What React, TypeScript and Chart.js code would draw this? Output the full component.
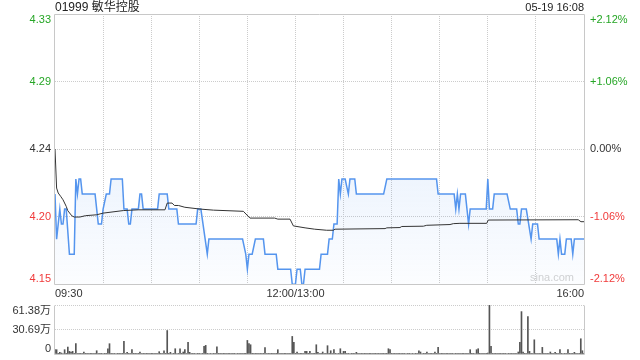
import React, { useEffect, useRef } from 'react';
import { Chart, registerables } from 'chart.js';

Chart.register(...registerables);

const FONT = 'Arial, "Liberation Sans", "Noto Sans CJK SC", sans-serif';

// ---------- text ----------
const TITLE = '01999 敏华控股';
const TIMESTAMP = '05-19 16:08';
const WATERMARK = 'sina.com';

// ---------- axes ----------
const PRE_CLOSE = 4.24;
const PCT_STEPS = [-0.0212, -0.0106, 0, 0.0106, 0.0212];
const PRICE_TICK_LABELS = ['4.15', '4.20', '4.24', '4.29', '4.33'];
const PCT_TICK_LABELS = ['-2.12%', '-1.06%', '0.00%', '+1.06%', '+2.12%'];
const TOTAL_MINUTES = 330;
const GRID_MINUTES = [0, 30, 60, 90, 120, 150, 180, 210, 240, 270, 300, 330];
const TIME_TICK_MINUTES = [0, 150, 330];
const TIME_TICK_LABELS = ['09:30', '12:00/13:00', '16:00'];
const VOL_TICK_VALUES = [0, 30.69, 61.38];
const VOL_TICK_LABELS = ['0', '30.69万', '61.38万'];

// ---------- price (minute index since 09:30, trading minutes) ----------
const priceMinutes = [
  0, 1, 3, 4, 5, 6, 7, 9, 12, 13, 14, 15, 16, 17, 25, 27, 29, 30, 32, 34,
  35, 42, 43, 45, 46, 47, 48, 52, 53, 54, 55, 64, 65, 70, 71, 76, 77, 88, 89, 91,
  95, 96, 117, 119, 120, 121, 123, 125, 130, 131, 138, 139, 147, 148, 150, 151, 153, 154, 155, 156,
  165, 166, 170, 171, 173, 174, 176, 177, 178, 179, 181, 183, 184, 187, 188, 205, 207, 238, 239, 249,
  250, 251, 252, 253, 256, 258, 259, 269, 270, 271, 273, 274, 282, 284, 288, 289, 290, 291, 294, 297,
  298, 301, 302, 313, 314, 315, 316, 318, 319, 322, 323, 324, 330,
];
const priceValues = [
  4.21, 4.18, 4.20, 4.19, 4.19, 4.20, 4.20, 4.17, 4.17, 4.22, 4.21, 4.22, 4.22, 4.21, 4.21, 4.19, 4.19, 4.20, 4.21, 4.21,
  4.22, 4.22, 4.20, 4.20, 4.19, 4.19, 4.20, 4.20, 4.21, 4.21, 4.20, 4.20, 4.21, 4.21, 4.20, 4.20, 4.19, 4.19, 4.20, 4.20,
  4.17, 4.18, 4.18, 4.17, 4.16, 4.17, 4.17, 4.18, 4.18, 4.17, 4.17, 4.16, 4.16, 4.15, 4.15, 4.16, 4.16, 4.15, 4.15, 4.16,
  4.16, 4.17, 4.17, 4.18, 4.18, 4.19, 4.19, 4.22, 4.21, 4.22, 4.22, 4.21, 4.22, 4.22, 4.21, 4.21, 4.22, 4.22, 4.21, 4.21,
  4.20, 4.21, 4.20, 4.21, 4.21, 4.19, 4.20, 4.20, 4.22, 4.20, 4.20, 4.21, 4.21, 4.20, 4.20, 4.19, 4.19, 4.20, 4.20, 4.18,
  4.19, 4.19, 4.18, 4.18, 4.17, 4.18, 4.17, 4.17, 4.18, 4.18, 4.17, 4.18, 4.18,
];

// ---------- average price ----------
const avgMinutes = [
  0, 1, 2, 3.5, 5, 7, 8, 10.5, 12, 15.5, 19, 26, 30, 42.6, 52, 68.6, 70, 73, 74.5, 77,
  81, 90.5, 98.8, 117.5, 121.6, 137, 139, 146.6, 148.7, 156, 162, 169.5, 173.6, 174.7, 205.9, 207, 215.2, 216.3, 229.8, 231.9,
  246.4, 248.5, 252.6, 269.3, 270.3, 326.4, 328.1, 330,
];
const avgValues = [
  4.240, 4.214, 4.2107, 4.2085, 4.2062, 4.2018, 4.1989, 4.1955, 4.1947, 4.1947, 4.1956, 4.1962, 4.1973, 4.1990, 4.1995, 4.1995, 4.2040, 4.2040, 4.2024, 4.2024,
  4.2012, 4.2000, 4.1993, 4.1985, 4.1940, 4.1940, 4.1933, 4.1933, 4.1888, 4.1875, 4.1866, 4.1859, 4.1859, 4.1866, 4.1870, 4.1875, 4.1877, 4.1884, 4.1886, 4.1892,
  4.1897, 4.1903, 4.1905, 4.1905, 4.1927, 4.1929, 4.1916, 4.1916,
];

// ---------- volume per minute (万股) ----------
const volumeValues = [
  5.4, 5.4, 0.8, 2.1, 1.2, 0.6, 5.4, 0.8, 8.7, 3.3, 2.5, 3.3, 0.8, 12.9, 0.6, 0.8, 0.5, 0.6, 2.5, 0.8, 0.5, 0.6, 0.8, 0.5, 0.6, 0.8, 4.1, 0.6, 0.5, 0.8,
  0.6, 0.8, 0.5, 6.6, 12.9, 0.8, 0.6, 0.5, 0.6, 0.8, 0.5, 0.6, 0.8, 15.8, 0.6, 2.1, 0.5, 0.6, 5.4, 0.8, 0.5, 0.6, 0.8, 2.5, 0.6, 0.5, 0.6, 0.8, 0.5, 0.6,
  0.8, 0.5, 0.6, 0.8, 0.6, 2.9, 0.5, 0.6, 4.1, 0.8, 29.4, 0.8, 2.1, 0.6, 0.8, 6.6, 0.6, 0.5, 6.6, 0.8, 2.5, 5.4, 0.6, 14.5, 2.1, 0.6, 0.8, 0.5, 0.6, 0.8,
  0.5, 0.6, 0.8, 9.5, 10.8, 0.8, 0.6, 0.5, 0.6, 0.8, 0.6, 9.1, 0.8, 0.5, 0.6, 0.8, 0.5, 0.6, 0.8, 0.5, 0.6, 0.5, 0.8, 0.6, 0.5, 0.6, 0.8, 0.6, 0.5, 0.8,
  17.0, 12.9, 11.6, 0.8, 0.6, 0.5, 0.8, 0.6, 0.5, 0.6, 0.8, 7.9, 0.6, 0.5, 0.6, 0.8, 0.5, 0.6, 0.8, 5.4, 0.6, 0.5, 0.6, 0.8, 0.5, 0.6, 0.8, 0.6, 22.0, 14.5,
  0.8, 2.5, 0.6, 0.8, 0.5, 0.6, 3.3, 3.3, 0.8, 3.3, 0.6, 0.5, 0.8, 11.6, 2.1, 0.6, 0.8, 2.5, 0.6, 0.5, 10.4, 0.8, 4.1, 0.6, 5.4, 0.8, 0.6, 0.5, 6.6, 0.8,
  3.3, 3.3, 0.6, 0.5, 0.6, 0.8, 0.5, 0.6, 2.1, 0.8, 0.6, 0.5, 0.6, 0.8, 0.5, 0.6, 0.8, 0.5, 0.6, 0.5, 0.8, 0.6, 0.5, 0.6, 0.8, 0.5, 0.6, 0.8, 6.6, 5.4,
  0.8, 0.6, 0.5, 0.6, 0.8, 0.5, 0.6, 0.8, 0.5, 0.6, 0.5, 0.8, 0.6, 0.5, 0.6, 0.8, 0.6, 4.1, 2.5, 0.6, 0.8, 0.5, 2.5, 0.6, 0.8, 0.5, 0.6, 2.5, 0.8, 8.3,
  0.6, 0.8, 0.5, 0.6, 0.8, 0.5, 0.6, 0.8, 0.5, 0.6, 0.8, 0.6, 0.5, 0.6, 0.8, 0.5, 0.6, 0.8, 0.6, 5.4, 0.8, 0.5, 0.6, 5.4, 6.6, 0.8, 0.6, 0.5, 0.6, 0.8,
  1.2, 61.38, 9.5, 0.8, 0.6, 0.5, 0.6, 0.8, 0.5, 0.6, 0.8, 0.5, 0.6, 0.8, 0.6, 0.5, 0.6, 0.8, 0.6, 2.5, 14.5, 53.1, 2.5, 0.8, 0.6, 46.9, 3.3, 0.8, 0.6, 17.8,
  0.8, 0.6, 0.5, 0.6, 8.3, 0.8, 0.6, 0.5, 0.6, 2.5, 0.8, 0.6, 2.1, 0.8, 0.6, 5.4, 0.8, 0.6, 0.5, 0.6, 5.4, 0.8, 0.6, 0.5, 2.1, 0.8, 0.6, 0.5, 19.1, 4.1,
  0.8,
];

const UP_COLOR = '#26a626';
const DOWN_COLOR = '#f03a3a';
const FLAT_COLOR = '#333333';
const FRAME_COLOR = '#c8c8c8';
const GRID_COLOR = '#cccccc';

function tickColor(i: number, n: number) {
  const mid = (n - 1) / 2;
  if (i > mid) return UP_COLOR;
  if (i < mid) return DOWN_COLOR;
  return FLAT_COLOR;
}

function edgeBaseline(i: number, n: number): CanvasTextBaseline {
  if (i === 0) return 'bottom';
  if (i === n - 1) return 'top';
  return 'middle';
}

export default function App() {
  const mainRef = useRef<HTMLCanvasElement>(null);
  const volRef = useRef<HTMLCanvasElement>(null);

  useEffect(() => {
    const priceTickValues = PCT_STEPS.map((p) => PRE_CLOSE * (1 + p));
    const yMin = priceTickValues[0];
    const yMax = priceTickValues[priceTickValues.length - 1];

    const framePlugin = {
      id: 'frame',
      beforeDatasetsDraw(chart: any, _a: any, opts: any) {
        const { ctx, chartArea } = chart;
        const l = Math.round(chartArea.left) - 0.5;
        const r = Math.round(chartArea.right) + 0.5;
        const t = Math.round(chartArea.top) + 0.5;
        const b = Math.round(chartArea.bottom) + 0.5;
        ctx.save();
        ctx.strokeStyle = FRAME_COLOR;
        ctx.lineWidth = 1;
        ctx.beginPath();
        if (opts.top) { ctx.moveTo(l, t); ctx.lineTo(r, t); }
        ctx.moveTo(l, t); ctx.lineTo(l, b);
        ctx.moveTo(r, t); ctx.lineTo(r, b);
        ctx.moveTo(l, b); ctx.lineTo(r, b);
        ctx.stroke();
        if (opts.watermark) {
          ctx.fillStyle = '#d2d2d2';
          ctx.font = '11px ' + FONT;
          ctx.textAlign = 'center';
          ctx.textBaseline = 'middle';
          ctx.fillText(WATERMARK, chartArea.right - 32, chartArea.bottom - 6);
        }
        ctx.restore();
      },
    };

    const mainLabels = {
      id: 'mainLabels',
      afterDraw(chart: any) {
        const { ctx, chartArea } = chart;
        const y = chart.scales.y;
        const n = priceTickValues.length;
        ctx.save();
        ctx.font = '11px ' + FONT;
        priceTickValues.forEach((v, i) => {
          const py = y.getPixelForValue(v);
          ctx.textBaseline = edgeBaseline(i, n);
          ctx.fillStyle = tickColor(i, n);
          ctx.textAlign = 'right';
          ctx.fillText(PRICE_TICK_LABELS[i], chartArea.left - 4, py);
          ctx.textAlign = 'left';
          ctx.fillText(PCT_TICK_LABELS[i], chartArea.right + 6, py);
        });
        ctx.fillStyle = '#222';
        ctx.textBaseline = 'middle';
        ctx.font = '12px ' + FONT;
        ctx.textAlign = 'left';
        ctx.fillText(TITLE, chartArea.left, 8);
        ctx.font = '11px ' + FONT;
        ctx.textAlign = 'right';
        ctx.fillText(TIMESTAMP, chartArea.right, 8);
        ctx.restore();
      },
    };

    const volLabels = {
      id: 'volLabels',
      afterDraw(chart: any) {
        const { ctx, chartArea } = chart;
        const y = chart.scales.y;
        const n = VOL_TICK_VALUES.length;
        ctx.save();
        ctx.font = '11px ' + FONT;
        ctx.fillStyle = '#333';
        ctx.textAlign = 'right';
        VOL_TICK_VALUES.forEach((v, i) => {
          ctx.textBaseline = edgeBaseline(i, n);
          ctx.fillText(VOL_TICK_LABELS[i], chartArea.left - 4, y.getPixelForValue(v));
        });
        ctx.restore();
      },
    };

    const edgeTransparent = (first: number, last: number) => (c: any) => {
      const v = c.tick ? c.tick.value : null;
      if (v === first || v === last) return 'rgba(0,0,0,0)';
      return GRID_COLOR;
    };

    const main = new Chart(mainRef.current!, {
      type: 'line',
      data: {
        datasets: [
          {
            label: 'avg',
            data: avgMinutes.map((m, i) => ({ x: m, y: avgValues[i] })),
            borderColor: '#333333',
            borderWidth: 1,
            pointRadius: 0,
            fill: false,
            tension: 0,
          },
          {
            label: 'price',
            data: priceMinutes.map((m, i) => ({ x: m, y: priceValues[i] })),
            borderColor: '#5595ee',
            borderWidth: 1.5,
            pointRadius: 0,
            tension: 0,
            fill: 'start',
            backgroundColor: (c: any) => {
              const ca = c.chart.chartArea;
              if (!ca) return 'rgba(85,149,238,0.1)';
              const g = c.chart.ctx.createLinearGradient(0, ca.top, 0, ca.bottom);
              g.addColorStop(0, 'rgba(85,149,238,0.22)');
              g.addColorStop(1, 'rgba(85,149,238,0.02)');
              return g;
            },
          },
        ],
      },
      options: {
        responsive: false,
        maintainAspectRatio: false,
        animation: false,
        events: [],
        layout: { padding: { top: 14, left: 0, right: 0, bottom: 0 } },
        plugins: {
          legend: { display: false },
          tooltip: { enabled: false },
          frame: { top: true, watermark: true },
        } as any,
        scales: {
          x: {
            type: 'linear',
            min: 0,
            max: TOTAL_MINUTES,
            afterBuildTicks: (s: any) => { s.ticks = GRID_MINUTES.map((v) => ({ value: v })); },
            afterFit: (s: any) => { s.height = 16; },
            grid: { color: edgeTransparent(0, TOTAL_MINUTES), drawTicks: false, lineWidth: 1 },
            border: { display: false, dash: [1, 1] },
            ticks: {
              autoSkip: false,
              maxRotation: 0,
              minRotation: 0,
              align: 'inner',
              padding: 3,
              color: '#333',
              font: { family: FONT, size: 11 },
              callback: (value: any) => {
                const i = TIME_TICK_MINUTES.indexOf(Number(value));
                return i >= 0 ? TIME_TICK_LABELS[i] : '';
              },
            },
          },
          y: {
            type: 'linear',
            position: 'left',
            min: yMin,
            max: yMax,
            afterBuildTicks: (s: any) => { s.ticks = priceTickValues.map((v) => ({ value: v })); },
            afterFit: (s: any) => { s.width = 55; },
            grid: { color: edgeTransparent(yMin, yMax), drawTicks: false, lineWidth: 1 },
            border: { display: false, dash: [1, 1] },
            ticks: { display: false },
          },
          yR: {
            type: 'linear',
            position: 'right',
            afterFit: (s: any) => { s.width = 56; },
            grid: { display: false, drawTicks: false },
            border: { display: false },
            ticks: { display: false },
          },
        } as any,
      },
      plugins: [framePlugin, mainLabels],
    } as any);

    const vol = new Chart(volRef.current!, {
      type: 'bar',
      data: {
        datasets: [
          {
            label: 'volume',
            data: volumeValues.map((v, i) => ({ x: i, y: v })),
            backgroundColor: '#555555',
            barThickness: 1,
            borderWidth: 0,
          },
        ],
      },
      options: {
        responsive: false,
        maintainAspectRatio: false,
        animation: false,
        events: [],
        layout: { padding: { top: 5, left: 0, right: 0, bottom: 6 } },
        plugins: {
          legend: { display: false },
          tooltip: { enabled: false },
          frame: { top: false, watermark: false },
        } as any,
        scales: {
          x: {
            type: 'linear',
            min: 0,
            max: TOTAL_MINUTES,
            display: false,
            offset: false,
          },
          y: {
            type: 'linear',
            position: 'left',
            min: 0,
            max: VOL_TICK_VALUES[VOL_TICK_VALUES.length - 1],
            afterBuildTicks: (s: any) => { s.ticks = VOL_TICK_VALUES.map((v) => ({ value: v })); },
            afterFit: (s: any) => { s.width = 55; },
            grid: { color: GRID_COLOR, drawTicks: false, lineWidth: 1 },
            border: { display: false, dash: [1, 1] },
            ticks: { display: false },
          },
          yR: {
            type: 'linear',
            position: 'right',
            afterFit: (s: any) => { s.width = 56; },
            grid: { display: false, drawTicks: false },
            border: { display: false },
            ticks: { display: false },
          },
        } as any,
      },
      plugins: [framePlugin, volLabels],
    } as any);

    return () => {
      main.destroy();
      vol.destroy();
    };
  }, []);

  return (
    <div style={{ position: 'absolute', left: 0, top: 0, width: 640, height: 360, background: '#fff' }}>
      <canvas ref={mainRef} width={640} height={300} style={{ position: 'absolute', left: 0, top: 0 }} />
      <canvas ref={volRef} width={640} height={60} style={{ position: 'absolute', left: 0, top: 300 }} />
    </div>
  );
}
